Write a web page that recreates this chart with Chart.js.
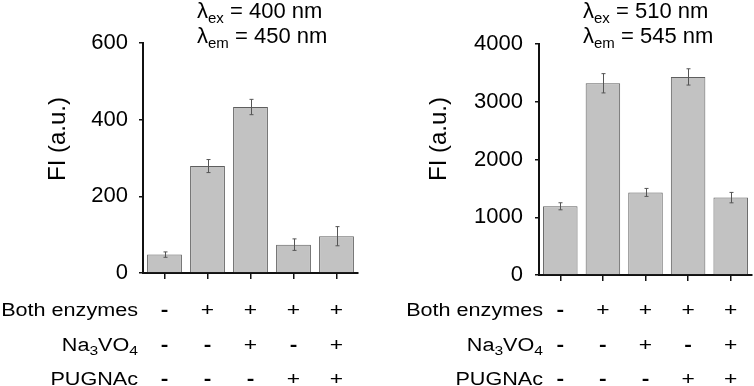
<!DOCTYPE html>
<html><head><meta charset="utf-8">
<script src="https://cdn.jsdelivr.net/npm/chart.js"></script>
<style>
html,body{margin:0;padding:0;background:#fff;}
#wrap{position:relative;width:754px;height:386px;overflow:hidden;}
.c{position:absolute;top:0;height:386px;}
</style></head><body>
<div id="wrap">
<div class="c" style="left:0;width:380px"><canvas id="c1"></canvas></div>
<div class="c" style="left:380px;width:374px"><canvas id="c2"></canvas></div>
</div>
<script>
// ---- data ----
const categories = ['A','B','C','D','E'];
const bothEnzymes = ['-','+','+','+','+'];
const na3vo4 = ['-','-','+','-','+'];
const pugnac = ['-','-','-','+','+'];
const fiLeft = [48, 279, 433, 74, 96];
const errLeft = [7, 17, 20, 15, 25];
const fiRight = [1190, 3320, 1430, 3430, 1340];
const errRight = [61, 167, 69, 141, 90];
const yTicksLeft = [0, 200, 400, 600];
const yTicksRight = [0, 1000, 2000, 3000, 4000];
const rowHeads = [
  [{t:'Both enzymes'}],
  [{t:'Na'},{t:'3',sub:true},{t:'VO'},{t:'4',sub:true}],
  [{t:'PUGNAc'}]
];
const rowSigns = [bothEnzymes, na3vo4, pugnac];
const titleLeft = [
  [{t:'\u03bb'},{t:'ex',sub:true},{t:' = 400 nm'}],
  [{t:'\u03bb'},{t:'em',sub:true},{t:' = 450 nm'}]
];
const titleRight = [
  [{t:'\u03bb'},{t:'ex',sub:true},{t:' = 510 nm'}],
  [{t:'\u03bb'},{t:'em',sub:true},{t:' = 545 nm'}]
];
const yTitle = 'FI (a.u.)';

const FF = "'Liberation Sans', Arial, Helvetica, sans-serif";

function segWidth(ctx, segs, size, subSize, sx){
  let w = 0;
  for (const s of segs){
    ctx.font = (s.sub ? subSize : size) + 'px ' + FF;
    w += ctx.measureText(s.t).width * sx;
  }
  return w;
}
function drawSegs(ctx, segs, x, y, size, subSize, subDrop, sx){
  let cx = x;
  for (const s of segs){
    ctx.font = (s.sub ? subSize : size) + 'px ' + FF;
    ctx.save();
    ctx.translate(cx, s.sub ? y + subDrop : y);
    ctx.scale(sx, 1);
    ctx.textAlign = 'left';
    ctx.textBaseline = 'alphabetic';
    ctx.fillText(s.t, 0, 0);
    ctx.restore();
    cx += ctx.measureText(s.t).width * sx;
  }
}

function makeChart(id, values, errs, yMax, yTicks, cfg){
  const decor = {
    id: 'decor' + id,
    afterDatasetsDraw(chart){
      const ctx = chart.ctx;
      const ys = chart.scales.y;
      const meta = chart.getDatasetMeta(0);
      ctx.save();
      ctx.strokeStyle = '#555';
      ctx.lineWidth = 1;
      meta.data.forEach((bar, i) => {
        const x = Math.round(bar.x) + 0.5;
        const yt = ys.getPixelForValue(values[i] + errs[i]);
        const yb = ys.getPixelForValue(values[i] - errs[i]);
        ctx.beginPath();
        ctx.moveTo(x, yt); ctx.lineTo(x, yb);
        ctx.moveTo(x - 2, yt); ctx.lineTo(x + 2, yt);
        ctx.moveTo(x - 2, yb); ctx.lineTo(x + 2, yb);
        ctx.stroke();
      });
      ctx.restore();
    },
    afterDraw(chart){
      const ctx = chart.ctx;
      const xs = chart.scales.x;
      ctx.save();
      ctx.fillStyle = '#000';
      // titles
      cfg.title.forEach((segs, k) => {
        drawSegs(ctx, segs, cfg.titleX, cfg.titleBase[k], 22, 15, 5, 1);
      });
      // y axis title
      ctx.save();
      ctx.translate(cfg.yTitleX, 139);
      ctx.rotate(-Math.PI / 2);
      ctx.font = '24px ' + FF;
      ctx.textAlign = 'center';
      ctx.textBaseline = 'middle';
      ctx.fillText(yTitle, 0, 0);
      ctx.restore();
      // table
      const bases = [315.5, 350.5, 385];
      const SX = 1.2;
      rowHeads.forEach((segs, r) => {
        const w = segWidth(ctx, segs, 18, 13, SX);
        drawSegs(ctx, segs, cfg.headRight - w, bases[r], 18, 13, 4, SX);
        rowSigns[r].forEach((s, i) => {
          ctx.save();
          ctx.translate(xs.getPixelForValue(i), bases[r]);
          ctx.scale(SX, 1);
          ctx.font = (s === '-' ? 'bold ' : '') + '19px ' + FF;
          ctx.textAlign = 'center';
          ctx.textBaseline = 'alphabetic';
          ctx.fillText(s, 0, 0);
          ctx.restore();
        });
      });
      ctx.restore();
    }
  };
  return new Chart(document.getElementById(id), {
    type: 'bar',
    data: {
      labels: categories,
      datasets: [{
        data: values,
        backgroundColor: '#c2c2c2',
        borderColor: '#5e5e5e',
        borderWidth: 1,
        barPercentage: 0.81,
        categoryPercentage: 1
      }]
    },
    options: {
      responsive: true,
      maintainAspectRatio: false,
      animation: false,
      devicePixelRatio: 1,
      layout: { padding: { top: cfg.top, right: cfg.right, bottom: 0, left: 0 } },
      plugins: { legend: { display: false }, tooltip: { enabled: false }, title: { display: false } },
      scales: {
        x: {
          offset: true,
          grid: { display: true, drawOnChartArea: false, drawTicks: true, tickLength: 6, offset: false, color: '#111', lineWidth: 1.5 },
          border: { display: true, color: '#111', width: 2 },
          ticks: { display: false },
          afterFit(s){ s.height = cfg.xH; }
        },
        y: {
          min: 0, max: yMax,
          grid: { display: true, drawOnChartArea: false, drawTicks: true, tickLength: 4, color: '#111', lineWidth: 1.5 },
          border: { display: true, color: '#111', width: 2 },
          ticks: { color: '#000', font: { family: FF, size: 22 }, padding: cfg.tickPad, callback: v => String(v) },
          afterBuildTicks(s){ s.ticks = yTicks.map(v => ({ value: v })); },
          afterFit(s){ s.width = cfg.yW; }
        }
      }
    },
    plugins: [decor]
  });
}

makeChart('c1', fiLeft, errLeft, 600, yTicksLeft, {
  top: 43, right: 22, xH: 113, yW: 143, tickPad: 11,
  title: titleLeft, titleX: 197, titleBase: [18, 43], yTitleX: 58, headRight: 138
});
makeChart('c2', fiRight, errRight, 4000, yTicksRight, {
  top: 44, right: 2, xH: 111, yW: 159, tickPad: 12,
  title: titleRight, titleX: 203, titleBase: [18, 43], yTitleX: 59, headRight: 163
});
</script>
</body></html>
